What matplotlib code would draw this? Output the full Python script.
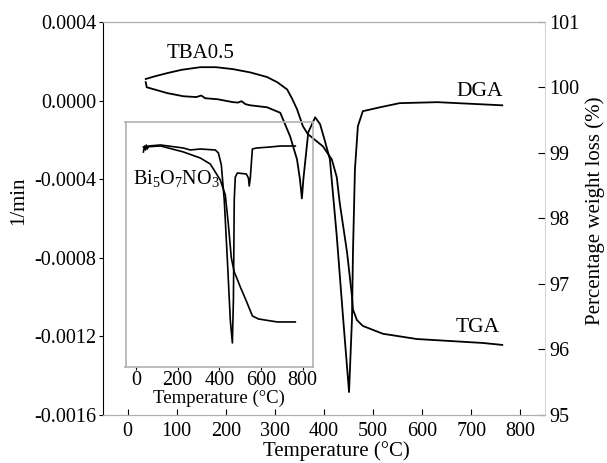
import matplotlib

matplotlib.use("Agg")
import matplotlib.pyplot as plt

plt.rcParams["font.family"] = ["Liberation Serif", "DejaVu Serif"]
plt.rcParams["mathtext.fontset"] = "custom"
plt.rcParams["mathtext.rm"] = "Liberation Serif"
plt.rcParams["mathtext.it"] = "Liberation Serif"

# TBA0.5, derivative curve (1/min)
dtg_t = [37, 39, 81, 114, 140, 150, 158, 183, 215, 225, 232, 240, 250, 284, 311, 331, 345,
         351, 355, 358, 368, 382, 392, 402, 412, 426, 439, 451, 457, 459, 463, 469, 479,
         514, 554, 631, 763]
dtg_v = [0.000094, 0.000068, 0.000038, 0.000022, 0.000018, 0.000026, 0.000012, 0.000007,
         -0.000008, -0.000010, -0.000003, -0.000018, -0.000024, -0.000034, -0.000062,
         -0.000182, -0.000299, -0.000400, -0.000498, -0.000400, -0.000161, -0.000085,
         -0.000120, -0.000207, -0.000299, -0.000690, -0.001110, -0.001483, -0.001110,
         -0.000770, -0.000350, -0.000130, -0.000054, -0.000034, -0.000013, -0.000008,
         -0.000024]

# TBA0.5, weight (%)
tga_t = [37, 55, 81, 110, 148, 180, 215, 250, 284, 305, 325, 335, 345, 357, 367, 398, 416,
         426, 432, 447, 457, 459, 467, 479, 520, 589, 656, 723, 763]
tga_w = [100.13, 100.17, 100.22, 100.27, 100.31, 100.31, 100.28, 100.23, 100.16, 100.08,
         99.97, 99.83, 99.67, 99.41, 99.29, 99.10, 98.90, 98.63, 98.24, 97.48, 96.81, 96.61,
         96.45, 96.36, 96.24, 96.16, 96.13, 96.10, 96.07]

# Bi5O7NO3 inset (no y scale shown)
in_dtg_t = [36, 41, 46, 50, 55, 60, 118, 228, 261, 309, 381, 396, 410, 424, 439, 453, 463,
            468, 472, 477, 487, 530, 540, 544, 549, 559, 578, 645, 693, 765]
in_dtg_v = [0.000388, 0.00051, 0.000429, 0.000531, 0.000449, 0.00051, 0.000531, 0.000469,
            0.000429, 0.000449, 0.000429, 0.000367, 0.000122, -0.000592, -0.00182, -0.00304,
            -0.00351, -0.00263, -0.00059, -0.000123, -0.000041, -0.000061, -0.000143,
            -0.000306, -0.000143, 0.000449, 0.000469, 0.00049, 0.00051, 0.00051]
in_tga_t = [36, 118, 228, 309, 357, 405, 429, 444, 458, 472, 482, 501, 530, 559, 588, 621,
            679, 765]
in_tga_w = [99.67, 99.73, 99.41, 99.09, 98.77, 97.92, 97.13, 95.53, 93.78, 93.04, 92.78,
            92.25, 91.50, 90.71, 90.55, 90.49, 90.39, 90.39]

GRAY = "#b0b0b0"
FS = 14.5

fig = plt.figure(figsize=(6.07, 4.63), dpi=100)
ax = fig.add_axes([103 / 607, 1 - 415 / 463, 442 / 607, 393 / 463])
ax2 = ax.twinx()

ax.plot(dtg_t, dtg_v, color="black", lw=1.3)
ax2.plot(tga_t, tga_w, color="black", lw=1.3)

ax.set_xlim(-50, 850)
ax.set_ylim(-0.0016, 0.0004)
ax.set_xticks(range(0, 801, 100))
ax.set_yticks([-0.0016, -0.0012, -0.0008, -0.0004, 0.0, 0.0004])
ax.set_yticklabels(["-0.0016", "-0.0012", "-0.0008", "-0.0004", "0.0000", "0.0004"])
ax2.set_ylim(95, 101)
ax2.set_yticks(range(95, 102))

for s in ("top", "bottom"):
    ax.spines[s].set_color(GRAY)
    ax2.spines[s].set_color(GRAY)
ax.spines["right"].set_visible(False)
ax2.spines["right"].set_color("#d4d4d4")
ax.spines["left"].set_color("black")
ax2.spines["left"].set_visible(False)

ax.tick_params(axis="y", direction="out", length=3, labelsize=FS, pad=2)
ax.tick_params(axis="x", direction="in", length=4, labelsize=FS, pad=5)
ax2.tick_params(axis="y", direction="in", length=5, labelsize=FS, pad=3)

ax.set_xlabel("Temperature (°C)", fontsize=15)
ax.xaxis.set_label_coords(0.529, -0.066)
ax.set_ylabel("1/min", fontsize=15, labelpad=4)
ax.yaxis.label.set_y(0.545)
ax2.set_ylabel("Percentage weight loss (%)", fontsize=15, labelpad=4)
ax2.yaxis.label.set_y(0.519)

ax.text(148, 0.000240, "TBA0.5", fontsize=15, ha="center", va="center")
ax.text(717, 0.000048, "DGA", fontsize=15.5, ha="center", va="center")
ax.text(713, -0.001156, "TGA", fontsize=15.5, ha="center", va="center")

# inset
ins = fig.add_axes([125.5 / 607, 1 - 367 / 463, 187.5 / 607, 245 / 463])
ins.patch.set_alpha(0)
ins2 = ins.twinx()
ins.plot(in_dtg_t, in_dtg_v, color="black", lw=1.2)
ins2.plot(in_tga_t, in_tga_w, color="black", lw=1.2)
ins.set_xlim(-50, 850)
ins.set_ylim(-0.004, 0.001)
ins2.set_ylim(88, 101)
ins.set_xticks(range(0, 801, 200))
ins.set_yticks([])
ins2.set_yticks([])
for s in ins.spines.values():
    s.set_color(GRAY)
    s.set_linewidth(1.2)
for s in ins2.spines.values():
    s.set_visible(False)
ins.tick_params(axis="x", direction="out", length=2, labelsize=FS, pad=1)
ins.set_xlabel("Temperature (°C)", fontsize=13.5, labelpad=0)
ins.text(0.04, 0.77, r"Bi$_5$O$_7$NO$_3$", transform=ins.transAxes, fontsize=FS,
         ha="left", va="center")

fig.savefig("out.png", dpi=100)
